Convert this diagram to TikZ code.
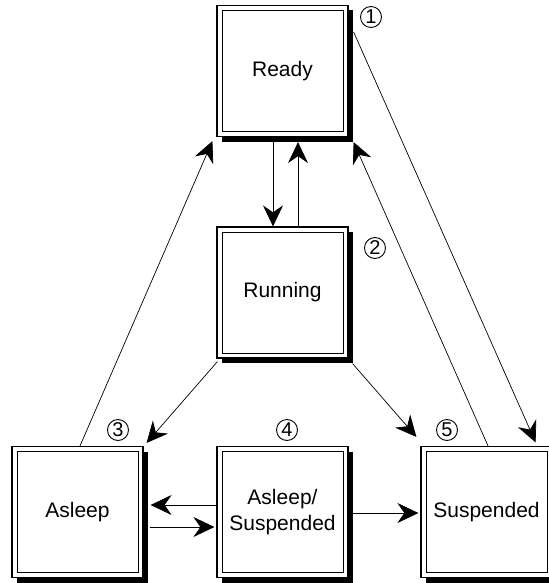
\documentclass[tikz,border=0pt]{standalone}
\usepackage{fontspec}
\setmainfont{Liberation Sans}
\usetikzlibrary{arrows.meta,shadows}
\tikzset{
  statebox/.style = {draw, line width = 0.6pt, fill = white, inner sep = 0pt,
    minimum width = 65.5pt, minimum height = 65.5pt, align = center,
    font = \fontsize{10.5}{13}\selectfont,
    drop shadow = {shadow xshift = 2.5pt, shadow yshift = -2.5pt, fill = black, opacity = 1},
    path picture = {\draw[line width = 0.5pt]
      ([shift = {(2.5pt,-2.5pt)}]path picture bounding box.north west) rectangle
      ([shift = {(-2.5pt,2.5pt)}]path picture bounding box.south east);}},
  stepnum/.style = {circle, draw, line width = 0.45pt, inner sep = 0pt,
    minimum size = 10.5pt, font = \fontsize{10}{10}\selectfont},
  trans/.style = {line width = 0.35pt, -{Stealth[length = 10.5pt, width = 10pt, inset = 3.5pt]}}
}
\begin{document}
\begin{tikzpicture}[x = 0.5pt, y = -0.5pt]
\useasboundingbox (0,0) rectangle (548,583);
\node[statebox] (ready)     at (282.5,71)  {Ready};
\node[statebox] (running)   at (282.5,292.5) {Running};
\node[statebox] (asleep)    at (77.5,512)  {Asleep};
\node[statebox] (asleepsus) at (282.5,512) {Asleep/\\Suspended};
\node[statebox] (suspended) at (486.5,512) {Suspended};
%% step numbers
\node[stepnum] (n1) at (371,17)  {1};
\node[stepnum] (n2) at (375,248) {2};
\node[stepnum] (n3) at (118,430) {3};
\node[stepnum] (n4) at (287,430) {4};
\node[stepnum] (n5) at (447,430) {5};
%% transitions
\draw[trans] ([shift = {(-9.5,0)}]ready.south) -- ([shift = {(-9.5,0)}]running.north);
\draw[trans] ([shift = {(15.5,0)}]running.north) -- ([shift = {(15.5,5)}]ready.south);
\draw[trans] ([shift = {(2.5,0)}]asleep.north) -- ([shift = {(-4,4)}]ready.south west);
\draw[trans] ([shift = {(1.5,0)}]suspended.north) -- ([shift = {(5,5)}]ready.south east);
\draw[trans] ([shift = {(5,27)}]ready.north east) -- ([shift = {(-17,-3.5)}]suspended.north east);
\draw[trans] ([shift = {(1,3)}]running.south west) -- ([shift = {(3,-3)}]asleep.north east);
\draw[trans] ([shift = {(4,5)}]running.south east) -- ([shift = {(-4,-9)}]suspended.north west);
\draw[trans] ([shift = {(0,-7)}]asleepsus.west) -- ([shift = {(7,-7)}]asleep.east);
\draw[trans] ([shift = {(6,15)}]asleep.east) -- ([shift = {(-2,15)}]asleepsus.west);
\draw[trans] ([shift = {(4,1)}]asleepsus.east) -- ([shift = {(-2,1)}]suspended.west);
\end{tikzpicture}
\end{document}
